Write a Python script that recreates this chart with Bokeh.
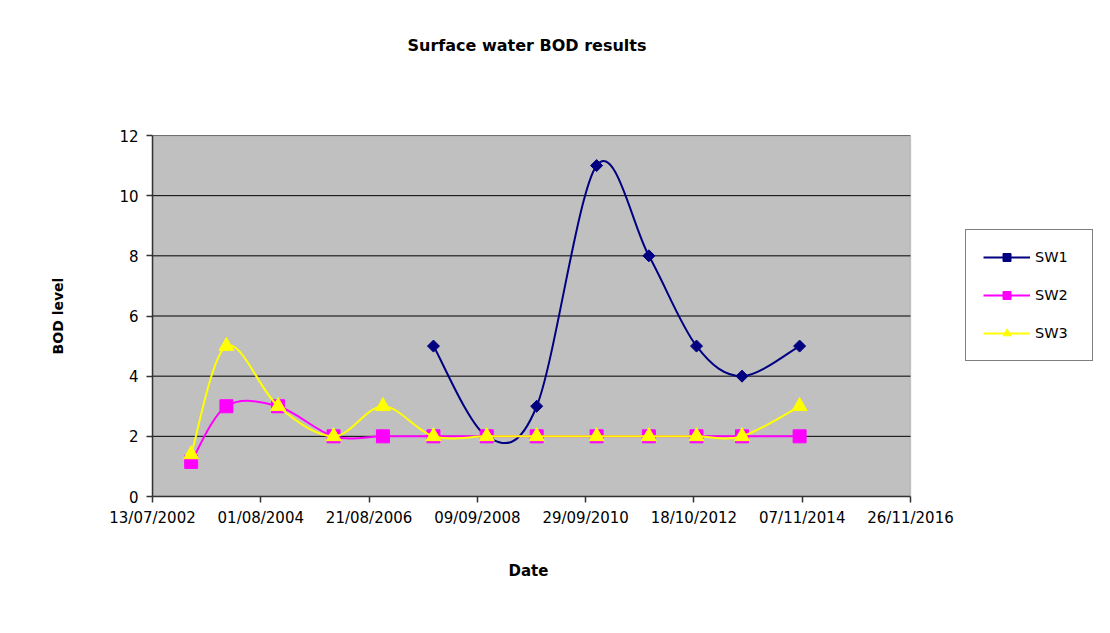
import datetime as dt
import math
from bokeh.plotting import figure
from bokeh.models import (FixedTicker, DatetimeTickFormatter, Legend, LegendItem,
                          ColumnDataSource, Range1d, LinearAxis, DatetimeAxis, BoxAnnotation,
                          Title)
from bokeh.embed import file_html
from bokeh.resources import INLINE

# ---------------- data ----------------
dates = ["2003-04-07", "2003-12-07", "2004-11-29", "2005-12-18", "2006-11-25",
         "2007-11-10", "2008-11-13", "2009-10-25", "2010-12-14", "2011-12-11",
         "2012-11-05", "2013-09-16", "2014-10-20"]
sw1 = [None, None, None, None, None, 5, 2, 3, 11, 8, 5, 4, 5]
sw2 = [1.15, 3, 3, 2, 2, 2, 2, 2, 2, 2, 2, 2, 2]
sw3 = [1.4, 5, 3, 2, 3, 2, 2, 2, 2, 2, 2, 2, 3]
x_tick_labels = ["13/07/2002", "01/08/2004", "21/08/2006", "09/09/2008",
                 "29/09/2010", "18/10/2012", "07/11/2014", "26/11/2016"]
y_ticks = [0, 2, 4, 6, 8, 10, 12]

title_text = "Surface water BOD results"
x_label = "Date"
y_label = "BOD level"

EPOCH = dt.datetime(1970, 1, 1)


def to_ms(d):
    return (d - EPOCH).total_seconds() * 1000.0


date_ms = [to_ms(dt.datetime.strptime(d, "%Y-%m-%d")) for d in dates]
tick_ms = [to_ms(dt.datetime.strptime(t, "%d/%m/%Y")) for t in x_tick_labels]


def series(vals):
    xs, ys = [], []
    for x, v in zip(date_ms, vals):
        if v is not None:
            xs.append(x)
            ys.append(v)
    return xs, ys


def smooth(xs, ys):
    n = len(xs)
    d = dict(x0=[], y0=[], x1=[], y1=[], cx0=[], cy0=[], cx1=[], cy1=[])
    for i in range(n - 1):
        ip = max(i - 1, 0)
        inn = min(i + 2, n - 1)
        d["x0"].append(xs[i]); d["y0"].append(ys[i])
        d["x1"].append(xs[i + 1]); d["y1"].append(ys[i + 1])
        d["cx0"].append(xs[i] + (xs[i + 1] - xs[ip]) / 6.0)
        d["cy0"].append(ys[i] + (ys[i + 1] - ys[ip]) / 6.0)
        d["cx1"].append(xs[i + 1] - (xs[inn] - xs[i]) / 6.0)
        d["cy1"].append(ys[i + 1] - (ys[inn] - ys[i]) / 6.0)
    return ColumnDataSource(d)


FONT = "DejaVu Sans"

# layout (pixels)
W, H = 1094, 617
LEFT, TOP, BOTTOM, RIGHT = 152, 135, 121, 1
PLOT_W = 758                      # width of the grey plotting area
FRAME_W = W - LEFT - RIGHT        # frame also hosts the legend on its right
x_start = tick_ms[0]
x_end = tick_ms[0] + (tick_ms[-1] - tick_ms[0]) * FRAME_W / PLOT_W

p = figure(width=W, height=H,
           x_range=Range1d(x_start, x_end), y_range=Range1d(y_ticks[0], y_ticks[-1]),
           x_axis_location=None, y_axis_location=None,
           output_backend="svg", toolbar_location=None,
           min_border_left=LEFT, min_border_right=RIGHT, min_border_top=TOP,
           min_border_bottom=BOTTOM,
           background_fill_color="white", border_fill_color="white",
           outline_line_color=None)
p.title.text = ""

# grey plot area
p.add_layout(BoxAnnotation(left=tick_ms[0], right=tick_ms[-1], bottom=y_ticks[0], top=y_ticks[-1],
                           fill_color="#C0C0C0", fill_alpha=1.0, line_color="#808080",
                           line_width=1.5, level="underlay"))

# spacer above the plot, then the chart title (placed over the grey area)
spacer = LinearAxis(ticker=FixedTicker(ticks=[]), axis_line_color=None,
                    major_tick_out=0, major_tick_in=0, minor_tick_out=0, minor_tick_in=0,
                    major_label_standoff=0, axis_label="\u00a0",
                    axis_label_text_font_size="10px", axis_label_standoff=62)
p.add_layout(spacer, "above")
p.add_layout(Title(text=title_text, align="left", offset=255, standoff=10,
                   text_font=FONT, text_font_size="16px", text_font_style="bold",
                   text_color="black"), "above")

fmt = "%d/%m/%Y"
xax = DatetimeAxis(ticker=FixedTicker(ticks=tick_ms), bounds=(tick_ms[0], tick_ms[-1]),
                   formatter=DatetimeTickFormatter(
                       milliseconds=fmt, seconds=fmt, minsec=fmt, minutes=fmt, hourmin=fmt,
                       hours=fmt, days=fmt, months=fmt, years=fmt),
                   major_label_standoff=6)
yax = LinearAxis(ticker=FixedTicker(ticks=y_ticks), axis_label=y_label,
                 major_label_standoff=8, axis_label_standoff=50,
                 axis_label_text_font_size="14px")
for ax in (xax, yax):
    ax.axis_line_color = "#333333"
    ax.axis_line_width = 1.5
    ax.major_tick_line_color = "#333333"
    ax.major_tick_line_width = 1.5
    ax.major_tick_in = 0
    ax.major_tick_out = 6
    ax.minor_tick_in = 0
    ax.minor_tick_out = 0
    ax.major_label_text_font = FONT
    ax.major_label_text_font_size = "15px"
    ax.major_label_text_color = "black"
    ax.axis_label_text_font = FONT
    ax.axis_label_text_font_style = "bold"
    ax.axis_label_text_color = "black"
p.add_layout(xax, "below")
p.add_layout(yax, "left")
# x-axis title, centred under the grey area
p.add_layout(Title(text=x_label, align="left", offset=356, standoff=64,
                   vertical_align="top",
                   text_font=FONT, text_font_size="15px", text_font_style="bold",
                   text_color="black"), "below")

# horizontal gridlines across the plot area only
p.xgrid.visible = False
p.ygrid.visible = False
p.segment(x0=tick_ms[0], x1=tick_ms[-1], y0=y_ticks[1:], y1=y_ticks[1:],
          line_color="black", line_width=1)

# series
items = []
specs = [
    ("SW1", sw1, "#000080", dict(marker="square", size=8.5, angle=math.pi / 4)),
    ("SW2", sw2, "#FF00FF", dict(marker="square", size=13)),
    ("SW3", sw3, "#FFFF00", dict(marker="triangle", size=15)),
]
for name, vals, color, mk in specs:
    xs, ys = series(vals)
    src = smooth(xs, ys)
    b = p.bezier(x0="x0", y0="y0", x1="x1", y1="y1", cx0="cx0", cy0="cy0",
                 cx1="cx1", cy1="cy1", source=src, line_color=color, line_width=2)
    s = p.scatter(xs, ys, fill_color=color, line_color=color, **mk)
    items.append(LegendItem(label=name, renderers=[b, s]))

legend = Legend(items=items, location=(813, 135), orientation="vertical",
                glyph_width=47, glyph_height=20, label_standoff=5, spacing=18,
                padding=17, margin=0, label_width=40,
                label_text_font=FONT, label_text_font_size="14.5px", label_text_color="black",
                border_line_color="black", border_line_width=1,
                background_fill_color="white", background_fill_alpha=1.0)
p.add_layout(legend, "center")

open("out.html", "w").write(file_html(p, INLINE))
